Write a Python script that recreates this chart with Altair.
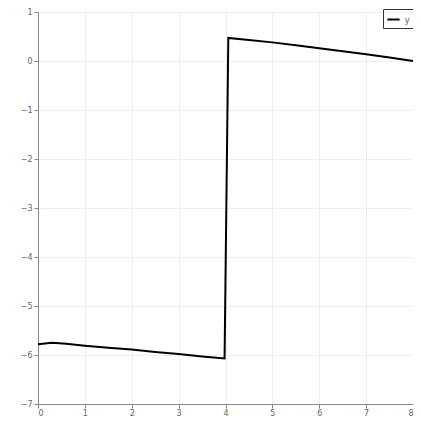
import altair as alt
import pandas as pd

xs = [0.0, 0.3, 0.6, 1.0, 1.5, 2.0, 2.5, 3.0, 3.5, 3.98, 4.06, 4.5, 5.0, 5.5, 6.0, 6.5, 7.0, 7.5, 8.0]
ys = [-5.78, -5.75, -5.77, -5.81, -5.85, -5.89, -5.94, -5.98, -6.03, -6.07, 0.47, 0.43, 0.38, 0.32, 0.26, 0.20, 0.14, 0.07, 0.0]
series = ["y"] * len(xs)

df = pd.DataFrame({"x": xs, "y": ys, "s": series})

chart = alt.Chart(df).mark_line(strokeWidth=2, color="black").encode(
    x=alt.X("x:Q", scale=alt.Scale(domain=[0, 8], nice=False),
            axis=alt.Axis(title=None, values=list(range(0, 9)), grid=True, labelPadding=1)),
    y=alt.Y("y:Q", scale=alt.Scale(domain=[-7, 1], nice=False),
            axis=alt.Axis(title=None, values=list(range(-7, 2)), grid=True)),
    color=alt.Color("s:N", scale=alt.Scale(range=["black"]),
                    legend=alt.Legend(title=None, orient="none", legendX=345, legendY=-3,
                                      symbolType="stroke", symbolStrokeWidth=2, symbolSize=150,
                                      strokeColor="#333", padding=3, labelFontSize=9,
                                      labelColor="#555", cornerRadius=0)),
    order="x:Q",
).properties(
    width=375, height=392,
    autosize=alt.AutoSizeParams(type="none"),
    padding={"left": 30, "top": 4, "right": 0, "bottom": 14},
).configure_axis(
    domainColor="#888", tickColor="#888", labelColor="#666", labelFontSize=8,
    gridColor="#eeeeee", tickSize=4, labelFont="DejaVu Sans",
).configure_view(stroke=None)

chart.save("out.html", embed_options={"renderer": "svg", "actions": False})
